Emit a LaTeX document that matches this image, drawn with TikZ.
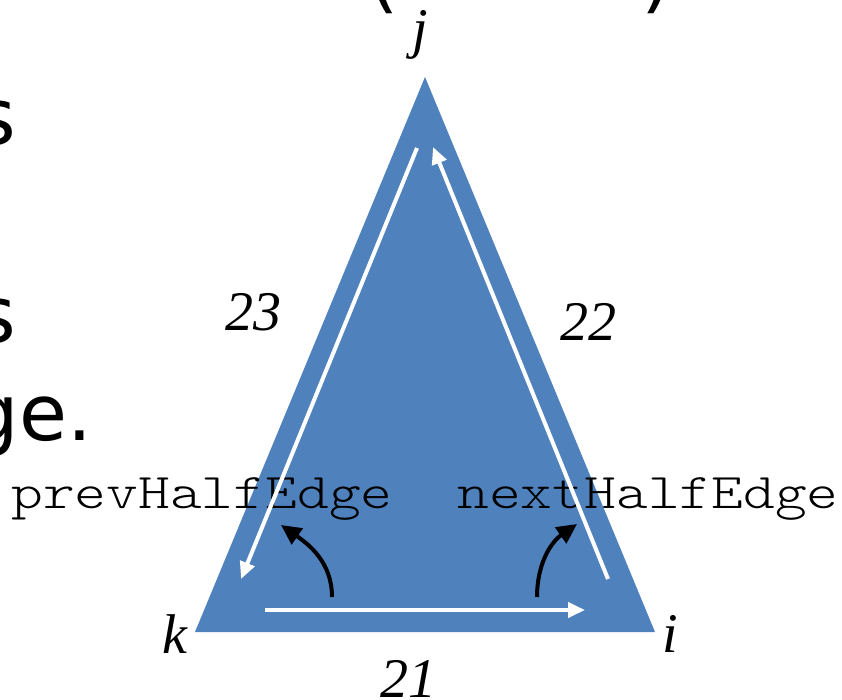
\documentclass[tikz,border=0pt]{standalone}
\usepackage{fontspec}
\setmainfont{Liberation Serif}
\setsansfont{DejaVu Sans}
\setmonofont{Latin Modern Mono Light}
\usetikzlibrary{arrows.meta}
\definecolor{faceblue}{HTML}{4F81BD}
\tikzstyle{vlabel} = [font=\fontsize{56}{60}\selectfont\itshape,inner sep=0pt,anchor=base]
\tikzstyle{code} = [font=\ttfamily\fontsize{50}{54}\selectfont,inner sep=0pt,anchor=base]
\tikzstyle{slide} = [font=\sffamily\fontsize{78}{90}\selectfont,inner sep=0pt,anchor=base east]
\tikzstyle{halfedge} = [draw=white,line width=4pt,-{Triangle[length=17pt,width=15pt]}]
\tikzstyle{ptr} = [draw=black,line width=4pt,-{Triangle[length=20pt,width=19pt]}]

\begin{document}
\begin{tikzpicture}[x=1pt,y=-1pt]
\useasboundingbox (0,0) rectangle (842,700);
\clip (0,0) rectangle (842,700);

% slide text cut off at the border
\node[slide] (s1) at (16,145) {s};
\node[slide] (s2) at (16,342) {s};
\node[slide] (ge) at (92,440) {ge.};
\node[slide,anchor=base] (lp) at (384,4) {(};
\node[slide,anchor=base] (rp) at (657,4) {)};

% face
\coordinate (vj) at (425,77);
\coordinate (vk) at (195,632);
\coordinate (vi) at (655,632);
\fill[faceblue] (vj) -- (vk) -- (vi) -- cycle;

\node[vlabel] (j) at (420,48) {j};
\node[vlabel] (k) at (175,653) {k};
\node[vlabel] (i) at (670,652) {i};
\node[vlabel] (e21) at (408,697) {21};
\node[vlabel] (e23) at (253,330) {23};
\node[vlabel] (e22) at (588,340) {22};

\node[code] (prev) at (202,508) {\scalebox{1.21}[1]{prevHalfEdge}};
\node[code] (next) at (648,508) {\scalebox{1.21}[1]{nextHalfEdge}};

% half edges
\coordinate (h21s) at (265,610);
\coordinate (h21e) at (585,610);
\coordinate (h22s) at (608,579);
\coordinate (h22e) at (433,147);
\coordinate (h23s) at (417,148);
\coordinate (h23e) at (241,579);
\draw[halfedge] (h21s) -- (h21e);
\draw[halfedge] (h22s) -- (h22e);
\draw[halfedge] (h23s) -- (h23e);

% pointers
\coordinate (ps) at (332,597);
\coordinate (pe) at (281,525);
\coordinate (ns) at (537,597);
\coordinate (ne) at (577,524);
\draw[ptr] (ps) to[out=90,in=-35] (pe);
\draw[ptr] (ns) to[out=90,in=215] (ne);

\end{tikzpicture}
\end{document}
